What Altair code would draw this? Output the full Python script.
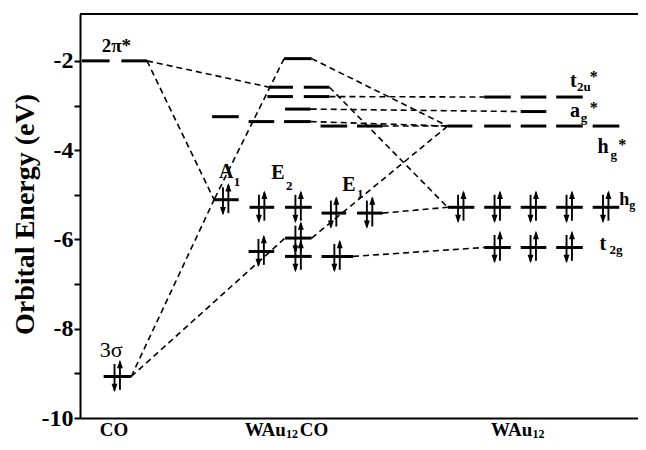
import altair as alt
import pandas as pd

FONT = "Liberation Serif"

# ---------------- data ----------------
# Orbital levels: x start, x end (diagram units), energy (eV), electrons
co_x1 = [82, 122, 104]
co_x2 = [110, 148, 132]
co_e = [-2.0, -2.0, -9.07]
co_occ = [0, 0, 2]

cx_x1 = [287, 272, 307, 270, 307, 288, 214, 251, 287, 324, 361, 215, 252, 288, 325, 361, 288, 251, 288, 325]
cx_x2 = [315, 296, 333, 296, 333, 314, 241, 277, 314, 351, 387, 241, 277, 315, 350, 387, 315, 277, 315, 357]
cx_e = [-1.95, -2.59, -2.59, -2.80, -2.80, -3.08, -3.25, -3.36, -3.36, -3.46, -3.46,
        -5.11, -5.28, -5.28, -5.41, -5.41, -5.97, -6.27, -6.38, -6.38]
cx_occ = [0] * 11 + [2] * 9

wa_x1 = [490, 527, 563, 527, 453, 490, 527, 563, 600, 453, 490, 527, 563, 600, 490, 527, 563]
wa_x2 = [517, 553, 590, 553, 478, 517, 553, 590, 627, 480, 517, 553, 590, 627, 517, 553, 590]
wa_e = [-2.81] * 3 + [-3.135] + [-3.46] * 5 + [-5.28] * 5 + [-6.18] * 3
wa_occ = [0] * 9 + [2] * 8

# Dashed correlation lines
con_x1 = [148, 148, 132, 132, 315, 287, 315, 333, 314, 387, 314, 333, 387, 357]
con_e1 = [-2.0, -2.0, -9.07, -9.07, -5.97, -1.95, -1.95, -2.80, -3.08, -3.46, -3.36, -2.59, -5.41, -6.38]
con_x2 = [272, 216, 216, 288, 453, 216, 453, 490, 527, 453, 453, 453, 453, 490]
con_e2 = [-2.59, -5.11, -5.11, -5.97, -3.46, -5.11, -3.46, -2.81, -3.135, -3.46, -3.46, -5.28, -5.28, -6.18]

# Text pieces: text, x, energy of baseline, font size, bold
lab_text = ["2π*", "3σ", "A", "1", "E", "2", "E", "1",
            "t", "2u", "*", "a", "g", "*", "h", "g", "*", "h", "g", "t", "2g",
            "CO", "WAu", "12", "CO", "WAu", "12"]
lab_x = [102, 100, 221, 236, 274, 289, 346, 361,
         577, 584, 597, 577, 588, 597, 605, 618, 626, 627, 637, 607, 617,
         100, 247, 289, 303, 497, 539]
lab_e = [-1.80, -8.63, -4.62, -4.80, -4.64, -4.89, -4.91, -5.07,
         -2.58, -2.67, -2.47, -3.25, -3.37, -3.16, -4.06, -4.19, -3.99, -5.23, -5.31, -6.23, -6.32,
         -10.40, -10.40, -10.45, -10.40, -10.40, -10.45]
lab_size = [19, 22, 20, 13, 20, 13, 20, 13,
            20, 13, 16, 20, 13, 16, 20, 13, 16, 18, 12, 20, 13,
            19, 19, 12, 19, 19, 12]
lab_bold = [1, 0, 1, 1, 1, 1, 1, 1,
            1, 1, 1, 1, 1, 1, 1, 1, 1, 1, 1, 1, 1,
            1, 1, 1, 1, 1, 1]

Y_TICKS = [-10, -9, -8, -7, -6, -5, -4, -3, -2]
X_DOMAIN = [80, 646]
Y_DOMAIN = [-10, -0.95]

# ---------------- tables ----------------
levels = pd.DataFrame({
    "x1": co_x1 + cx_x1 + wa_x1,
    "x2": co_x2 + cx_x2 + wa_x2,
    "e": co_e + cx_e + wa_e,
    "occ": co_occ + cx_occ + wa_occ,
})
levels["cx"] = (levels["x1"] + levels["x2"]) / 2
occ = levels[levels["occ"] > 0]

up = pd.DataFrame({"x": occ["cx"] + 2.5, "ya": occ["e"] - 0.30, "yb": occ["e"] + 0.33,
                   "yh": occ["e"] + 0.28})
down = pd.DataFrame({"x": occ["cx"] - 3.0, "ya": occ["e"] + 0.28, "yb": occ["e"] - 0.31,
                     "yh": occ["e"] - 0.26})
shafts = pd.concat([up, down])

conns = pd.DataFrame({"x1": con_x1, "e1": con_e1, "x2": con_x2, "e2": con_e2})
labels = pd.DataFrame({"t": lab_text, "x": lab_x, "e": lab_e, "fs": lab_size, "b": lab_bold})

xs = alt.Scale(domain=X_DOMAIN, nice=False, zero=False)
ys = alt.Scale(domain=Y_DOMAIN, nice=False, zero=False)
xax = alt.Axis(title=None, labels=False, ticks=False, grid=False, domainWidth=2,
               domainColor="black")
yax = alt.Axis(title="Orbital Energy (eV)", values=Y_TICKS, grid=False,
               labelExpr="datum.value % 2 == 0 ? datum.value : ''",
               labelFont=FONT, labelFontSize=24, labelFontWeight="bold", labelColor="black",
               labelPadding=1, labelFlush=False, labelOverlap=False,
               tickSize=6, tickWidth=2, tickColor="black",
               domainWidth=2, domainColor="black",
               titleFont=FONT, titleFontSize=28, titleFontWeight="bold", titleColor="black",
               titleX=-47, titleY=200, titleAngle=270, titleAlign="center",
               titleBaseline="alphabetic")


def X(f):
    return alt.X(f, type="quantitative", scale=xs, axis=xax)


def Y(f):
    return alt.Y(f, type="quantitative", scale=ys, axis=yax)


conn_layer = alt.Chart(conns).mark_rule(strokeDash=[6, 4], strokeWidth=1.6, color="black").encode(
    x=X("x1"), x2="x2", y=Y("e1"), y2="e2")

level_layer = alt.Chart(levels).mark_rule(strokeWidth=3, color="black", strokeCap="butt").encode(
    x=X("x1"), x2="x2", y=Y("e"))

shaft_layer = alt.Chart(shafts).mark_rule(strokeWidth=1.9, color="black").encode(
    x=X("x"), y=Y("ya"), y2="yb")

up_head = alt.Chart(up).mark_point(filled=True, size=72, opacity=1, color="black",
                                   shape="M-0.7,1L0,-1L0.7,1Z", strokeWidth=0).encode(
    x=X("x"), y=Y("yh"))
down_head = alt.Chart(down).mark_point(filled=True, size=72, opacity=1, color="black",
                                       shape="M-0.7,-1L0,1L0.7,-1Z", strokeWidth=0).encode(
    x=X("x"), y=Y("yh"))

bold_text = alt.Chart(labels).transform_filter("datum.b == 1").mark_text(
    font=FONT, fontWeight="bold", align="left", baseline="alphabetic", color="black").encode(
    x=X("x"), y=Y("e"), text="t:N", size=alt.Size("fs:Q", scale=None, legend=None))
norm_text = alt.Chart(labels).transform_filter("datum.b == 0").mark_text(
    font=FONT, align="left", baseline="alphabetic", color="black").encode(
    x=X("x"), y=Y("e"), text="t:N", size=alt.Size("fs:Q", scale=None, legend=None))

top_border = alt.Chart(pd.DataFrame({"a": [0]})).mark_rule(strokeWidth=2, color="black").encode(
    x=alt.X(datum=X_DOMAIN[0], type="quantitative", scale=xs, axis=xax),
    x2=alt.datum(X_DOMAIN[1]),
    y=alt.Y(datum=Y_DOMAIN[1], type="quantitative", scale=ys, axis=yax))

chart = alt.layer(conn_layer, level_layer, shaft_layer, up_head, down_head,
                  bold_text, norm_text, top_border).properties(
    width=558, height=404,
    autosize=alt.AutoSizeParams(type="none"),
    padding={"left": 72, "top": 6, "right": 0, "bottom": 24},
).configure_view(stroke=None).configure(background="white")

chart.save("out.html", embed_options={"renderer": "svg", "actions": False})
